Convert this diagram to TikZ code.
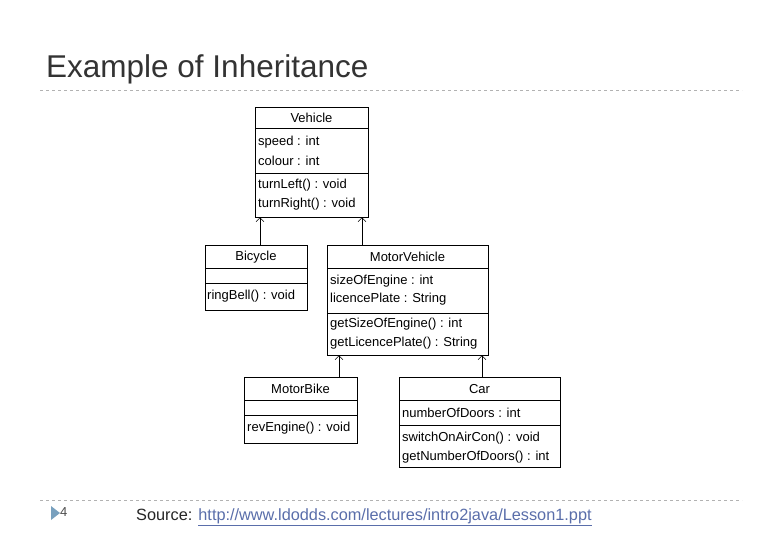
\documentclass[tikz,border=0pt]{standalone}
\usepackage{fontspec}
\setmainfont{Liberation Sans}
\usetikzlibrary{arrows.meta}
\definecolor{linkblue}{RGB}{90,110,170}
\definecolor{marker}{RGB}{120,160,190}
\tikzset{
    cls/.style={draw, line width=0.7pt, inner sep=0pt},
    txt/.style={anchor=west, inner sep=0pt, font=\fontsize{13}{14}\selectfont},
    ttl/.style={inner sep=0pt, font=\fontsize{13}{14}\selectfont},
    inherit/.style={-{Straight Barb[length=4pt,width=8pt,line width=0.5pt]}, line width=0.7pt}
}
\begin{document}
\begin{tikzpicture}[x=1pt, y=-1pt]
        \useasboundingbox (0,0) rectangle (780,540);
        % slide title and rules
        \node[anchor=west, inner sep=0pt, font=\fontsize{31.5}{34}\selectfont, text=black!80] (title) at (46,69) {Example of Inheritance};
        \draw[dashed, gray!60] (40,90) -- (742,90);
        \draw[dashed, gray!60] (40,500) -- (742,500);
        % Vehicle
        \node[cls, minimum width=113pt, minimum height=110pt] (vehicle) at (311.5,162) {};
        \draw (255,128) -- (368,128);
        \draw (255,173) -- (368,173);
        \node[ttl] (vname) at (311.5,117.5) {Vehicle};
        \node[txt] at (258,142) {speed : int};
        \node[txt] at (258,160.5) {colour : int};
        \node[txt] at (258,185) {turnLeft() : void};
        \node[txt] at (258,204) {turnRight() : void};
        % Bicycle
        \node[cls, minimum width=102pt, minimum height=65pt] (bicycle) at (256,277.5) {};
        \draw (205,268) -- (307,268);
        \draw (205,283) -- (307,283);
        \node[ttl] at (256,257) {Bicycle};
        \node[txt] at (207,296) {ringBell() : void};
        % MotorVehicle
        \node[cls, minimum width=161pt, minimum height=110pt] (motorvehicle) at (407.5,300) {};
        \draw (327,268) -- (488,268);
        \draw (327,313) -- (488,313);
        \node[ttl] at (407.5,257) {MotorVehicle};
        \node[txt] at (330,281) {sizeOfEngine : int};
        \node[txt] at (330,299) {licencePlate : String};
        \node[txt] at (330,324) {getSizeOfEngine() : int};
        \node[txt] at (330,343) {getLicencePlate() : String};
        % MotorBike
        \node[cls, minimum width=113pt, minimum height=66pt] (motorbike) at (300.5,410) {};
        \draw (244,400) -- (357,400);
        \draw (244,415) -- (357,415);
        \node[ttl] at (300.5,389) {MotorBike};
        \node[txt] at (247,428) {revEngine() : void};
        % Car
        \node[cls, minimum width=161pt, minimum height=90pt] (car) at (479.5,422) {};
        \draw (399,400) -- (560,400);
        \draw (399,425) -- (560,425);
        \node[ttl] at (479.5,389) {Car};
        \node[txt] at (402,413) {numberOfDoors : int};
        \node[txt] at (402,438) {switchOnAirCon() : void};
        \node[txt] at (402,457) {getNumberOfDoors() : int};
        % inheritance
        \draw[inherit] (bicycle.north -| 260,0) -- (vehicle.south -| 260,0);
        \draw[inherit] (motorvehicle.north -| 362,0) -- (vehicle.south -| 362,0);
        \draw[inherit] (motorbike.north -| 339,0) -- (motorvehicle.south -| 339,0);
        \draw[inherit] (car.north -| 482,0) -- (motorvehicle.south -| 482,0);
        % footer
        \fill[marker] (51,506) -- (60,513) -- (51,520) -- cycle;
        \node[anchor=west, inner sep=0pt, font=\fontsize{13}{14}\selectfont, text=black!70] (page) at (60,512) {4};
        \node[anchor=west, inner sep=0pt, font=\fontsize{16.3}{18}\selectfont, text=black!85] (source) at (136,517)
            {Source: \textcolor{linkblue}{\underline{http://www.ldodds.com/lectures/intro2java/Lesson1.ppt}}};
\end{tikzpicture}
\end{document}
